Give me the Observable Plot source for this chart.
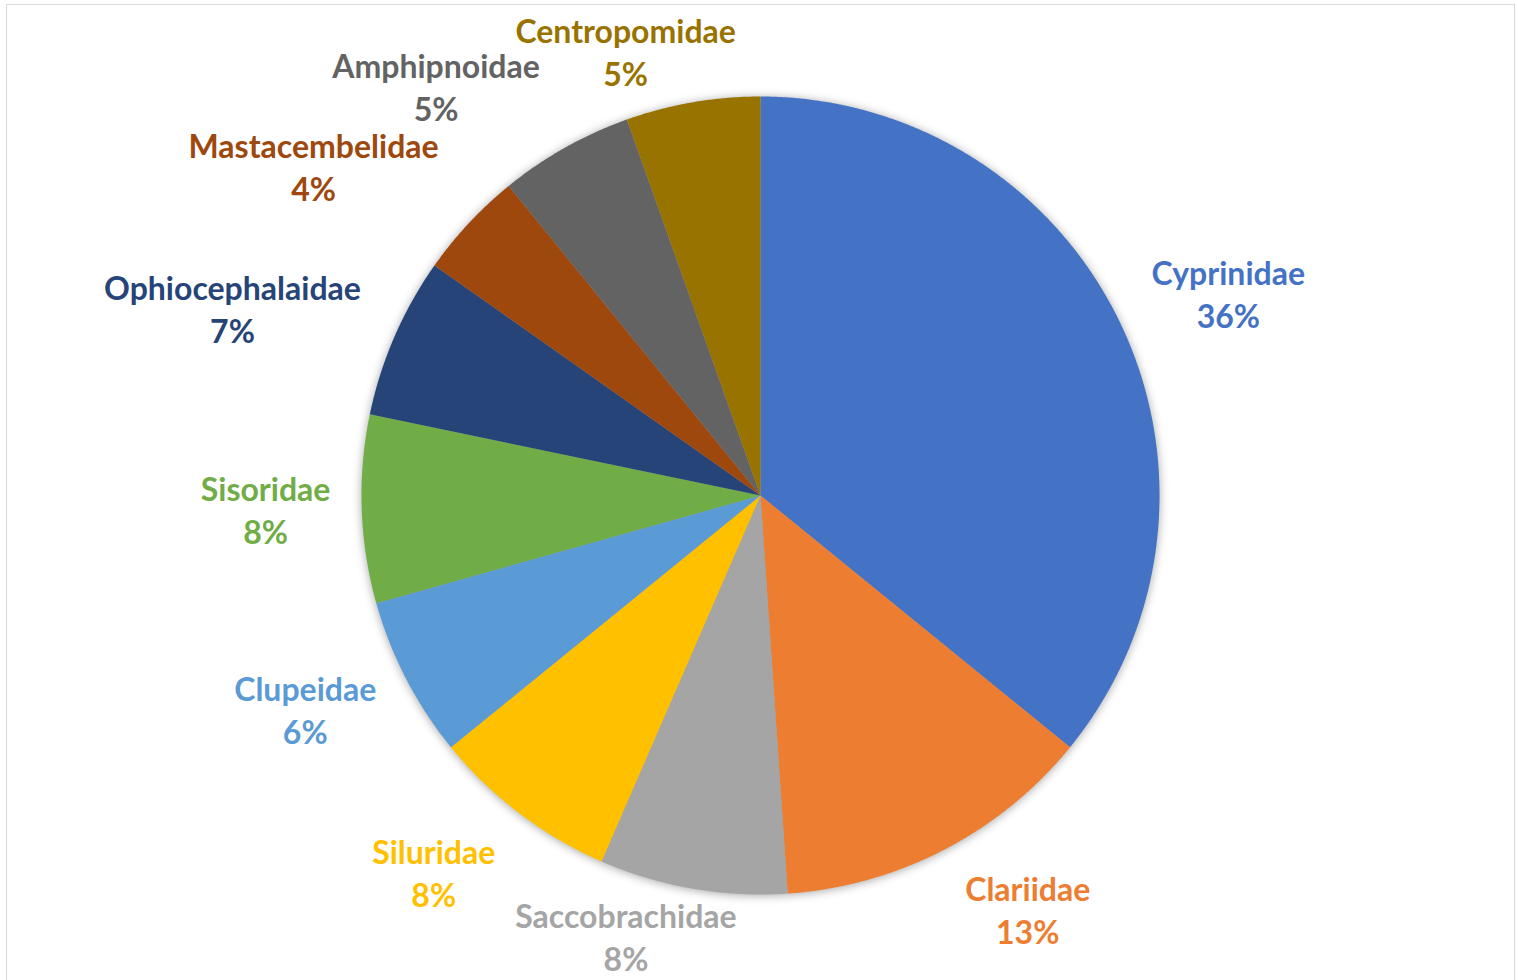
<!DOCTYPE html>
<html>
<head>
<meta charset="utf-8">
<script src="https://cdn.jsdelivr.net/npm/d3@7"></script>
<script src="https://cdn.jsdelivr.net/npm/@observablehq/plot@0.6"></script>
<style>
  html, body { margin: 0; padding: 0; background: #ffffff; overflow: hidden; }
  #wrap { position: relative; width: 1518px; height: 980px; }
  #border { position: absolute; left: 6px; top: 4px; width: 1509px; height: 1000px; border: 1.5px solid #d9d9d9; box-sizing: border-box; }
  #chart { position: absolute; left: 0; top: 0; }
</style>
</head>
<body>
<div id="wrap"><div id="border"></div><div id="chart"></div></div>
<script>
// ---- data ----
const families = ["Cyprinidae", "Clariidae", "Saccobrachidae", "Siluridae", "Clupeidae",
  "Sisoridae", "Ophiocephalaidae", "Mastacembelidae", "Amphipnoidae", "Centropomidae"];
const counts = [33, 12, 7, 7, 6, 7, 6, 4, 5, 5];
const percentLabels = ["36%", "13%", "8%", "8%", "6%", "8%", "7%", "4%", "5%", "5%"];

// ---- styles / layout ----
const colors = ["#4472C4", "#ED7D31", "#A5A5A5", "#FFC000", "#5B9BD5",
  "#70AD47", "#264478", "#9E480E", "#636363", "#997300"];
// label placement relative to each slice's mid-angle: [angle nudge (deg), distance in radii]
const labelNudge = [[2.3, 1.275], [-5.3, 1.240], [7.1, 1.161], [3.6, 1.254], [2.0, 1.263],
  [0.1, 1.241], [-4.2, 1.402], [-6.9, 1.387], [-9.2, 1.305], [-7.2, 1.157]];
const R = 399;

const pie = d3.pie().sort(null).value((d, i) => counts[i])(families);

const slicePts = [];
pie.forEach((p, i) => {
  const name = families[i];
  slicePts.push({name, x: 0, y: 0});
  const a0 = p.startAngle, a1 = p.endAngle;
  const n = Math.max(8, Math.ceil((a1 - a0) / (Math.PI / 720)));
  for (let k = 0; k <= n; k++) {
    const a = a0 + (a1 - a0) * k / n;
    slicePts.push({name, x: R * Math.sin(a), y: R * Math.cos(a)});
  }
  slicePts.push({name, x: 0, y: 0});
});

const labels = pie.map((p, i) => {
  const mid = (p.startAngle + p.endAngle) / 2 + labelNudge[i][0] * Math.PI / 180;
  const r = R * labelNudge[i][1];
  return {name: families[i], text: families[i] + "\n" + percentLabels[i],
          x: r * Math.sin(mid), y: r * Math.cos(mid)};
});

const chart = Plot.plot({
  width: 1518,
  height: 980,
  marginLeft: 8, marginRight: 4, marginTop: 5, marginBottom: 0,
  x: {domain: [-752, 754], axis: null},
  y: {domain: [-485, 490], axis: null},
  color: {type: "ordinal", domain: families, range: colors},
  style: {background: "transparent"},
  marks: [
    Plot.line(slicePts, {x: "x", y: "y", z: "name", fill: "name", stroke: null}),
    Plot.text(labels, {x: "x", y: "y", text: "text", fill: "name", dy: -3,
      fontSize: 32, fontWeight: "bold", fontFamily: "Lato", lineHeight: 1.344,
      textAnchor: "middle", lineAnchor: "middle"})
  ]
});
const g = chart.querySelector('g[aria-label="line"]');
if (g) g.style.filter = "drop-shadow(0px 1px 5px rgba(0,0,0,0.35))";
document.getElementById("chart").appendChild(chart);
</script>
</body>
</html>
